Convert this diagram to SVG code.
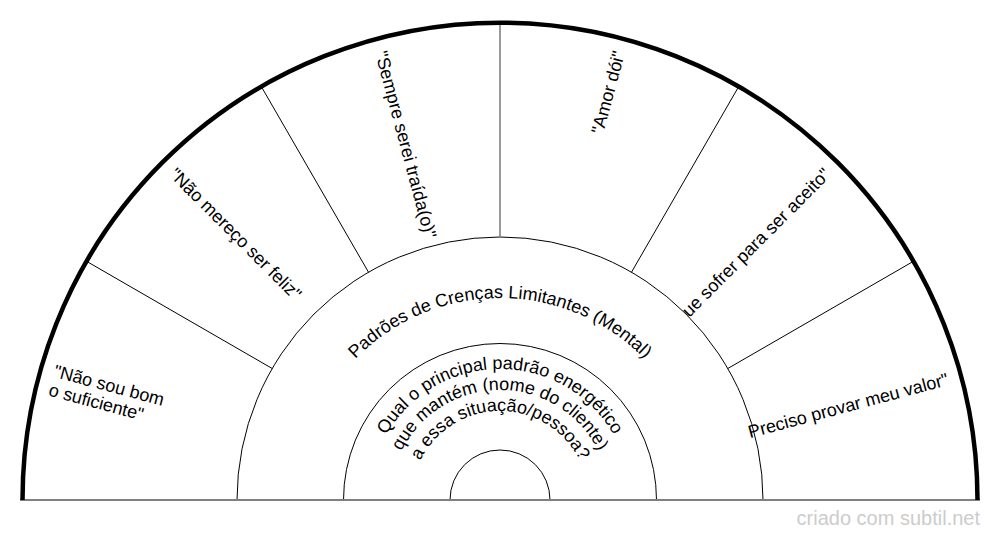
<svg xmlns="http://www.w3.org/2000/svg" xmlns:xlink="http://www.w3.org/1999/xlink" width="1000" height="540" viewBox="0 0 1000 540">
<style>
  .lbl { font-family: "Liberation Sans", Arial, sans-serif; font-size: 18px; fill: #000; }
  .ring { fill: none; stroke: #000; stroke-width: 1; }
  .div { stroke: #000; stroke-width: 1; }
  .mark { font-family: "Liberation Sans", Arial, sans-serif; font-size: 20px; fill: #cccccc; }
</style>
<defs>
  <path id="pBand" d="M 298 500 A 202 202 0 0 1 702 500"/>
  <path id="pQ1" d="M 369 500 A 131 131 0 0 1 631 500"/>
  <path id="pQ2" d="M 390 500 A 110 110 0 0 1 610 500"/>
  <path id="pQ3" d="M 411 500 A 89 89 0 0 1 589 500"/>
</defs>
<rect x="0" y="0" width="1000" height="540" fill="#fff"/>

<g id="rings">
  <path class="ring" d="M 237 500 A 263 263 0 0 1 763 500"/>
  <path class="ring" d="M 343.5 500 A 156.5 156.5 0 0 1 656.5 500"/>
  <path class="ring" d="M 450 500 A 50 50 0 0 1 550 500"/>
</g>

<g id="connectors">
  <line class="div" x1="727.8" y1="368.5" x2="913.1" y2="261.5"/>
  <line class="div" x1="631.5" y1="272.2" x2="738.5" y2="86.9"/>
  <line x1="500" y1="237" x2="500" y2="23" stroke="#808080" stroke-width="1.6"/>
  <line class="div" x1="368.5" y1="272.2" x2="261.5" y2="86.9"/>
  <line class="div" x1="272.2" y1="368.5" x2="86.9" y2="261.5"/>
  <line x1="20" y1="500" x2="980" y2="500" stroke="#808080" stroke-width="2"/>
  <path d="M 22.5 500 A 477.5 477.5 0 0 1 977.5 500" fill="none" stroke="#000" stroke-width="4.5"/>
</g>

<g id="sector-1" transform="translate(500,500) rotate(15)">
  <text class="lbl" x="-464" y="-3.5">"Não sou bom</text>
  <text class="lbl" x="-464" y="16">o suficiente"</text>
</g>
<g id="sector-2" transform="translate(500,500) rotate(45)">
  <text class="lbl" x="-464" y="5">"Não mereço ser feliz"</text>
</g>
<g id="sector-3" transform="translate(500,500) rotate(75)">
  <text class="lbl" x="-464" y="5">"Sempre serei traída(o)"</text>
</g>
<g id="sector-4" transform="translate(500,500) rotate(-75)">
  <text class="lbl" x="464" y="5" text-anchor="end">"Amor dói"</text>
</g>
<g id="sector-5" transform="translate(500,500) rotate(-45)">
  <text class="lbl" x="464" y="5" text-anchor="end">ue sofrer para ser aceito"</text>
</g>
<g id="sector-6" transform="translate(500,500) rotate(-15)">
  <text class="lbl" x="464" y="5" text-anchor="end">Preciso provar meu valor"</text>
</g>

<g id="band">
  <text class="lbl"><textPath href="#pBand" xlink:href="#pBand" startOffset="50%" text-anchor="middle">Padrões de Crenças Limitantes (Mental)</textPath></text>
</g>

<g id="question">
  <text class="lbl"><textPath href="#pQ1" xlink:href="#pQ1" startOffset="50%" text-anchor="middle">Qual o principal padrão energético</textPath></text>
  <text class="lbl"><textPath href="#pQ2" xlink:href="#pQ2" startOffset="50%" text-anchor="middle">que mantém (nome do cliente)</textPath></text>
  <text class="lbl"><textPath href="#pQ3" xlink:href="#pQ3" startOffset="50%" text-anchor="middle">a essa situação/pessoa?</textPath></text>
</g>

<text class="mark" x="980" y="525" text-anchor="end">criado com subtil.net</text>
</svg>
